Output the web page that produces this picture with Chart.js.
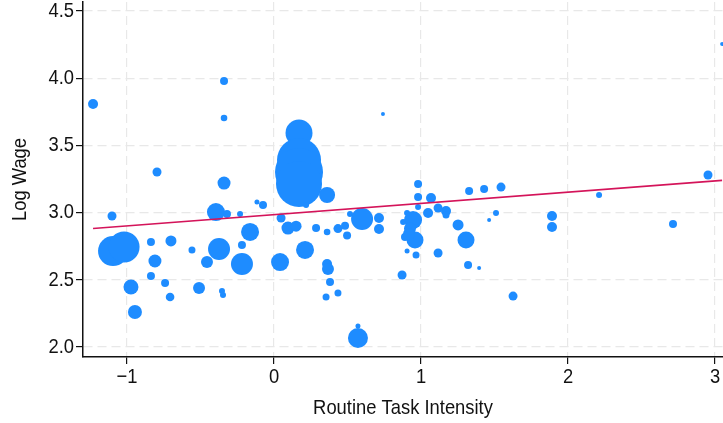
<!DOCTYPE html>
<html>
<head>
<meta charset="utf-8">
<script src="https://cdn.jsdelivr.net/npm/chart.js@4.4.1/dist/chart.umd.min.js"></script>
<style>
  html, body { margin: 0; padding: 0; background: #ffffff; }
  #wrap { width: 723px; height: 423px; position: relative; }
</style>
</head>
<body>
<div id="wrap"><canvas id="c" width="723" height="423"></canvas></div>
<script>
// Routine task intensity (x), log wage (y), employment weight (bubble size)
const rti = [
  -1.231, -0.340, -0.340, -0.796, -0.340, -1.102, -1.095, -1.020, -0.837, -0.701,
  -0.810, -0.837, -0.973, -0.741, -0.707, -0.946, -0.558, -0.510, -0.456, -0.374,
  -0.395, -0.320, -0.231, -0.354, -0.347, -0.218, -0.218, -0.163, -0.116, -0.075,
   0.170,  0.170,  0.170,  0.170,  0.218,  0.361,  0.048,  0.095,  0.150,  0.286,
   0.361,  0.435,  0.483,  0.497,  0.517,  0.599,  0.714,  0.714,  0.211,  0.041,
   0.361,  0.367,  0.381,  0.354,  0.435,  0.571,  0.571,  0.741,  0.980,  0.980,
   1.068,  1.327,  1.429,  1.544,  0.980,  1.048,  1.116,  1.170,  1.170,  1.510,
   1.463,  0.946,  0.905,  0.878,  0.925,  1.252,  1.306,  0.959,  0.891,  0.905,
   0.966,  1.116,  1.320,  1.395,  0.871,  1.891,  1.891,  1.626,  2.211,  2.714,
   2.952,  3.048,  0.918
];
const logWage = [
  3.808, 3.979, 3.704, 3.302, 3.220, 2.975, 2.714, 2.744, 2.781, 2.789,
  2.640, 2.528, 2.446, 2.476, 2.372, 2.260, 2.722, 2.439, 2.632, 2.729,
  3.004, 2.990, 2.990, 2.417, 2.387, 2.618, 2.759, 2.856, 3.079, 3.057,
  3.592, 3.391, 3.302, 3.213, 3.057, 3.131, 2.960, 2.885, 2.899, 2.885,
  2.856, 2.881, 2.903, 2.829, 2.990, 2.952, 2.960, 2.878, 2.722, 2.632,
  2.618, 2.580, 2.484, 2.372, 2.402, 2.156, 2.067, 3.734, 3.213, 3.116,
  3.109, 3.161, 3.176, 3.190, 3.042, 2.997, 3.034, 3.012, 2.982, 2.997,
  2.945, 2.945, 2.997, 2.930, 2.881, 2.908, 2.796, 2.796, 2.818, 2.714,
  2.685, 2.699, 2.610, 2.588, 2.536, 2.975, 2.893, 2.379, 3.131, 2.915,
  3.280, 4.254, 2.841
];
const empWeight = [
  5, 4, 3.3, 4.5, 6.5, 4.5, 15, 15.5, 4, 5.5,
  6.5, 4, 7.5, 4, 4.3, 7, 3.5, 6, 6, 11,
  9, 4, 3, 3, 3, 11, 4, 9, 2.5, 4,
  13.5, 22, 24, 23, 3, 8, 4.5, 6.5, 5.5, 4,
  3.3, 4.5, 4, 4, 3, 11, 5, 5, 9, 9,
  5, 6, 4, 3.5, 3.5, 2.5, 10, 2, 4, 4,
  5, 4, 4, 4.5, 3, 5, 4.5, 5, 3.5, 3,
  2, 9, 3, 3, 6, 5.5, 8.5, 8.5, 4, 2.5,
  3.5, 4.5, 4, 2, 4.5, 5, 5, 4.5, 3, 4,
  4.5, 2, 6
];
// Fitted regression line endpoints
const fitX = [-1.231, 3.048];
const fitY = [2.882, 3.240];
// Tick labels
const xTicks = [-1, 0, 1, 2, 3];
const yTicks = [2.0, 2.5, 3.0, 3.5, 4.0, 4.5];

const FONT = '"Liberation Sans", Arial, sans-serif';
const bubbles = rti.map((x, i) => ({ x: x, y: logWage[i], r: empWeight[i] }));
const fitPts = fitX.map((x, i) => ({ x: x, y: fitY[i] }));

const canvas = document.getElementById('c');
const ctx2d = canvas.getContext('2d');
// Narrow (condensed) rendering of the text, like the reference's narrow sans face
const origFillText = ctx2d.fillText.bind(ctx2d);
ctx2d.fillText = function (text, x, y, maxWidth) {
  ctx2d.save();
  ctx2d.translate(x, y);
  ctx2d.scale(0.875, 1);
  origFillText(text, 0, 0);
  ctx2d.restore();
};

new Chart(canvas, {
  data: {
    datasets: [
      {
        type: 'bubble',
        data: bubbles,
        backgroundColor: '#1e8cff',
        borderWidth: 0,
        hoverBorderWidth: 0,
        clip: false,
        order: 2
      },
      {
        type: 'line',
        data: fitPts,
        borderColor: '#d4145a',
        borderWidth: 1.6,
        pointRadius: 0,
        fill: false,
        tension: 0,
        clip: false,
        order: 1
      }
    ]
  },
  options: {
    responsive: false,
    animation: false,
    events: [],
    layout: { autoPadding: false, padding: { top: 2, left: 0, right: 0, bottom: 0 } },
    plugins: { legend: { display: false }, tooltip: { enabled: false } },
    scales: {
      x: {
        type: 'linear',
        min: -1.2993,
        max: 3.054,
        afterBuildTicks: s => { s.ticks = xTicks.map(v => ({ value: v })); },
        afterFit: s => { s.height = 66; s.paddingLeft = 0; s.paddingRight = 0; },
        grid: { color: '#e8e8e8', lineWidth: 1.2, tickColor: '#111', tickLength: 7, tickWidth: 1.2 },
        border: { display: true, color: '#111', width: 1.5, dash: [9, 5] },
        ticks: {
          padding: 1,
          color: '#111',
          font: { family: FONT, size: 21 },
          maxRotation: 0,
          callback: v => (v < 0 ? '\u2212' + Math.abs(v) : String(v))
        },
        title: {
          display: true,
          text: 'Routine Task Intensity',
          color: '#111',
          font: { family: FONT, size: 21 },
          padding: { top: 0, bottom: 2 }
        }
      },
      y: {
        type: 'linear',
        min: 1.9256,
        max: 4.567,
        afterBuildTicks: s => { s.ticks = yTicks.map(v => ({ value: v })); },
        afterFit: s => { s.width = 83; s.paddingTop = 0; s.paddingBottom = 0; },
        grid: { color: '#e8e8e8', lineWidth: 1.2, tickColor: '#111', tickLength: 7, tickWidth: 1.2 },
        border: { display: true, color: '#111', width: 1.5, dash: [9, 5] },
        ticks: {
          padding: 2,
          color: '#111',
          font: { family: FONT, size: 21 },
          callback: v => Number(v).toFixed(1)
        },
        title: {
          display: true,
          text: 'Log Wage',
          color: '#111',
          font: { family: FONT, size: 21 },
          padding: { top: 8, bottom: 0 }
        }
      }
    }
  }
});
</script>
</body>
</html>
